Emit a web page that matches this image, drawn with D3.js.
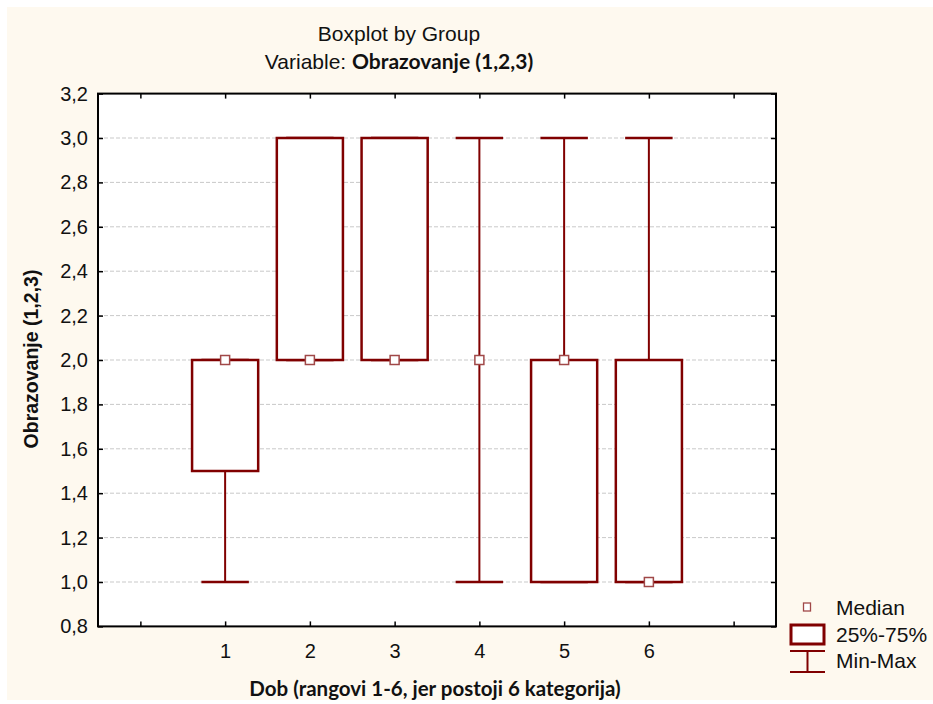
<!DOCTYPE html>
<html><head><meta charset="utf-8">
<script src="https://cdn.jsdelivr.net/npm/d3@7"></script>
<style>
body{margin:0;background:#fff;}
svg{display:block;}
.tk text{font-family:"Liberation Sans",Arial,sans-serif;font-size:20px;fill:#111;}
</style></head>
<body>
<svg id="c" width="933" height="704"></svg>
<script>
const categories = [1, 2, 3, 4, 5, 6];
const minV   = [1.0, 2.0, 2.0, 1.0, 1.0, 1.0];
const q1V    = [1.5, 2.0, 2.0, 2.0, 1.0, 1.0];
const medV   = [2.0, 2.0, 2.0, 2.0, 2.0, 1.0];
const q3V    = [2.0, 3.0, 3.0, 2.0, 2.0, 2.0];
const maxV   = [2.0, 3.0, 3.0, 3.0, 3.0, 3.0];
const yTicks = [0.8, 1.0, 1.2, 1.4, 1.6, 1.8, 2.0, 2.2, 2.4, 2.6, 2.8, 3.0, 3.2];
const xTickPositions = [0, 1, 2, 3, 4, 5, 6, 7];
const xTickLabels = ["", "1", "2", "3", "4", "5", "6", ""];
const legendLabels = ["Median", "25%-75%", "Min-Max"];

const svg = d3.select("#c");
const L = 98, R = 776, T = 93.6, B = 626.4;
const red = "#800000";
const x = d3.scaleLinear().domain([-0.5, 7.5]).range([L, R]);
const y = d3.scaleLinear().domain([0.8, 3.2]).range([B, T]);

// background
svg.append("rect").attr("x", 7).attr("y", 7).attr("width", 926).attr("height", 693).attr("fill", "#FEF9EF");
svg.append("rect").attr("x", L).attr("y", T).attr("width", R - L).attr("height", B - T).attr("fill", "#fff");

// gridlines
svg.append("g").selectAll("line").data(yTicks.slice(1, -1)).join("line")
  .attr("x1", L).attr("x2", R).attr("y1", d => y(d)).attr("y2", d => y(d))
  .attr("stroke", "#c9c9c9").attr("stroke-width", 1).attr("stroke-dasharray", "4,2");

// axes
const fmt = d => d.toFixed(1).replace(".", ",");
const gl = svg.append("g").attr("class", "tk").attr("transform", `translate(${L},0)`)
  .call(d3.axisLeft(y).tickValues(yTicks).tickSize(-5).tickPadding(10).tickFormat(fmt));
const gr = svg.append("g").attr("class", "tk").attr("transform", `translate(${R},0)`)
  .call(d3.axisRight(y).tickValues(yTicks).tickSize(-5).tickFormat(""));
const gb = svg.append("g").attr("class", "tk").attr("transform", `translate(0,${B})`)
  .call(d3.axisBottom(x).tickValues(xTickPositions).tickSize(-5).tickPadding(17).tickFormat((d, i) => xTickLabels[i]));
const gt = svg.append("g").attr("class", "tk").attr("transform", `translate(0,${T})`)
  .call(d3.axisTop(x).tickValues(xTickPositions).tickSize(-5).tickFormat(""));
[gl, gr, gb, gt].forEach(g => {
  g.select(".domain").remove();
  g.selectAll(".tick line").attr("stroke", "#000").attr("stroke-width", 1.5);
});
svg.append("rect").attr("x", L).attr("y", T).attr("width", R - L).attr("height", B - T)
  .attr("fill", "none").attr("stroke", "#000").attr("stroke-width", 2);

// boxes
const bw = 0.39, cw = 0.28, ms = 9;
const g = svg.append("g");
categories.forEach((c, i) => {
  const cx = x(c);
  g.append("line").attr("x1", cx).attr("x2", cx).attr("y1", y(minV[i])).attr("y2", y(maxV[i]))
    .attr("stroke", red).attr("stroke-width", 2);
  [minV[i], maxV[i]].forEach(v => {
    g.append("line").attr("x1", x(c - cw)).attr("x2", x(c + cw)).attr("y1", y(v)).attr("y2", y(v))
      .attr("stroke", red).attr("stroke-width", 2.5);
  });
  if (q3V[i] > q1V[i]) {
    g.append("rect").attr("x", x(c - bw)).attr("width", x(c + bw) - x(c - bw))
      .attr("y", y(q3V[i])).attr("height", y(q1V[i]) - y(q3V[i]))
      .attr("fill", "#fff").attr("stroke", red).attr("stroke-width", 2.5);
  }
  g.append("rect").attr("x", cx - ms / 2).attr("y", y(medV[i]) - ms / 2).attr("width", ms).attr("height", ms)
    .attr("fill", "#fff").attr("stroke", "#a04848").attr("stroke-width", 1.5);
});

// titles
const sans = '"Liberation Sans",Arial,sans-serif';
svg.append("text").attr("x", 399).attr("y", 41).attr("text-anchor", "middle")
  .attr("font-family", sans).attr("font-size", 21).attr("fill", "#111").text("Boxplot by Group");
const t2 = svg.append("text").attr("x", 399).attr("y", 69).attr("text-anchor", "middle")
  .attr("font-family", sans).attr("font-size", 21).attr("fill", "#111");
t2.append("tspan").text("Variable: ");
t2.append("tspan").attr("font-family", "Lato, sans-serif").attr("font-weight", "bold").text("Obrazovanje (1,2,3)");

svg.append("text").attr("x", 435).attr("y", 696).attr("text-anchor", "middle")
  .attr("font-family", "Lato, sans-serif").attr("font-weight", "bold").attr("font-size", 20.5).attr("fill", "#111")
  .text("Dob (rangovi 1-6, jer postoji 6 kategorija)");
svg.append("text").attr("transform", "translate(38,359) rotate(-90)").attr("text-anchor", "middle")
  .attr("font-family", sans).attr("font-weight", "bold").attr("font-size", 19.5).attr("fill", "#111")
  .text("Obrazovanje (1,2,3)");

// legend
const lg = svg.append("g");
lg.append("rect").attr("x", 807 - 3.5).attr("y", 603).attr("width", 7).attr("height", 8)
  .attr("fill", "#fff").attr("stroke", "#a04848").attr("stroke-width", 1.3);
lg.append("rect").attr("x", 791).attr("y", 625).attr("width", 33).attr("height", 19)
  .attr("fill", "#fff").attr("stroke", red).attr("stroke-width", 3);
lg.append("line").attr("x1", 790).attr("x2", 825).attr("y1", 651).attr("y2", 651).attr("stroke", red).attr("stroke-width", 2);
lg.append("line").attr("x1", 790).attr("x2", 825).attr("y1", 672).attr("y2", 672).attr("stroke", red).attr("stroke-width", 2);
lg.append("line").attr("x1", 807.5).attr("x2", 807.5).attr("y1", 651).attr("y2", 672).attr("stroke", red).attr("stroke-width", 2);
lg.selectAll("text.l").data(legendLabels).join("text").attr("class", "l")
  .attr("x", 836).attr("y", (d, i) => [615, 642, 668][i])
  .attr("font-family", sans).attr("font-size", 21).attr("fill", "#111").text(d => d);
</script>
</body></html>
